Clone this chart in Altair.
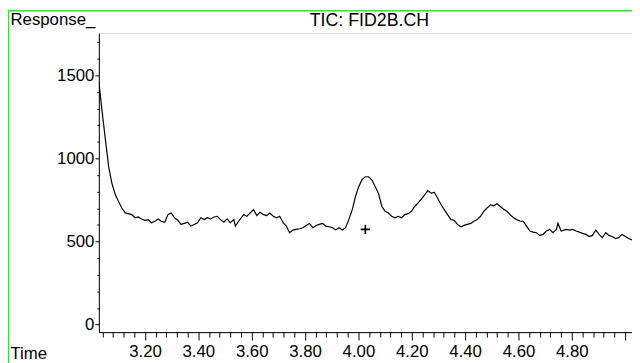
import altair as alt
import pandas as pd

# ---- data ----
time_min = [
    3.027, 3.039, 3.052, 3.064, 3.076, 3.089, 3.101, 3.113, 3.126, 3.138,
    3.150, 3.163, 3.175, 3.187, 3.200, 3.212, 3.224, 3.237, 3.249, 3.261,
    3.274, 3.286, 3.298, 3.311, 3.323, 3.335, 3.348, 3.360, 3.372, 3.385,
    3.397, 3.409, 3.422, 3.434, 3.446, 3.459, 3.471, 3.483, 3.496, 3.508,
    3.520, 3.533, 3.539, 3.551, 3.570, 3.582, 3.594, 3.607, 3.619, 3.631,
    3.644, 3.656, 3.668, 3.681, 3.693, 3.705, 3.718, 3.730, 3.742, 3.755,
    3.767, 3.779, 3.792, 3.804, 3.816, 3.829, 3.841, 3.853, 3.866, 3.878,
    3.890, 3.903, 3.915,
    3.927, 3.940, 3.952, 3.964, 3.977, 3.989, 4.001, 4.014, 4.026, 4.038,
    4.051, 4.063, 4.075, 4.088, 4.100, 4.112, 4.125, 4.137, 4.149, 4.162,
    4.174, 4.186, 4.199, 4.211, 4.223, 4.236, 4.248, 4.260, 4.273, 4.285,
    4.297, 4.310, 4.322, 4.334, 4.347, 4.359, 4.371, 4.384, 4.396, 4.408,
    4.421, 4.433, 4.445, 4.458, 4.470, 4.482, 4.495, 4.507, 4.519, 4.532,
    4.544, 4.556, 4.569, 4.581, 4.593, 4.606, 4.618, 4.630, 4.643, 4.655,
    4.667, 4.680, 4.692, 4.704, 4.717, 4.729, 4.742,
    4.748, 4.760,
    4.779, 4.791, 4.803, 4.816, 4.828, 4.840, 4.853, 4.865, 4.877, 4.890,
    4.902, 4.914, 4.927, 4.939, 4.951, 4.964, 4.976, 4.988, 5.001, 5.013,
    5.026,
]
response = [
    1464, 1286, 1107, 949, 850, 781, 741, 702, 672, 668,
    662, 643, 648, 636, 628, 632, 613, 622, 636, 622,
    616, 662, 672, 643, 628, 603, 609, 616, 593, 603,
    613, 643, 632, 643, 636, 648, 652, 632, 616, 636,
    613, 632, 593, 622, 662, 652, 672, 692, 656, 676,
    662, 656, 672, 652, 643, 652, 613, 593, 553, 569,
    573, 577, 583, 597, 609, 583, 597, 603, 609, 593,
    589, 583, 570,
    583, 569, 583, 632, 692, 771, 830, 874, 890, 890,
    870, 830, 791, 711, 682, 672, 652, 643, 652, 643,
    662, 668, 682, 711, 731, 755, 781, 805, 791, 795,
    761, 721, 692, 662, 632, 628, 603, 589, 597, 603,
    609, 622, 632, 652, 682, 702, 721, 715, 727, 711,
    696, 682, 662, 643, 632, 622, 622, 593, 563, 557,
    553, 537, 543, 563, 573, 553, 573,
    609, 563,
    573, 569, 573, 563, 557, 549, 543, 530, 537, 569,
    543, 524, 553, 537, 530, 518, 524, 543, 530, 518,
    510,
]
assert len(time_min) == len(response)

marker_time = [4.026]
marker_resp = [573]

x_major = [3.20, 3.40, 3.60, 3.80, 4.00, 4.20, 4.40, 4.60, 4.80, 5.00]
x_minor = [3.04, 3.08, 3.12, 3.16, 3.24, 3.28, 3.32, 3.36, 3.44, 3.48, 3.52, 3.56,
           3.64, 3.68, 3.72, 3.76, 3.84, 3.88, 3.92, 3.96, 4.04, 4.08, 4.12, 4.16,
           4.24, 4.28, 4.32, 4.36, 4.44, 4.48, 4.52, 4.56, 4.64, 4.68, 4.72, 4.76,
           4.84, 4.88, 4.92, 4.96]
y_major = [0, 500, 1000, 1500]
y_minor = [100, 200, 300, 400, 600, 700, 800, 900, 1100, 1200, 1300, 1400, 1600, 1700]

FONT = "Liberation Sans"
X_DOMAIN = [3.027, 5.0255]
Y_DOMAIN = [-45, 1755]

df = pd.DataFrame({"t": time_min, "r": response})
mk = pd.DataFrame({"t": marker_time, "r": marker_resp})
one = pd.DataFrame({"a": [0]})

xs = alt.Scale(domain=X_DOMAIN, nice=False, zero=False)
ys = alt.Scale(domain=Y_DOMAIN, nice=False, zero=False)

common_axis = dict(grid=False, labelFont=FONT, labelFontSize=17, labelColor="black",
                   tickColor="black", domainColor="black", titleFont=FONT,
                   titleFontSize=17, titleFontWeight="normal", titleColor="black",
                   labelOverlap=False, labelFlush=False)

line = alt.Chart(df).mark_line(color="black", strokeWidth=1.2, clip=True).encode(
    x=alt.X("t:Q", scale=xs, axis=alt.Axis(
        values=x_major, tickSize=8, labelPadding=4,
        labelExpr="datum.value > 4.9 ? '' : format(datum.value, '.2f')",
        title="Time", titleX=-90, titleY=27, titleAlign="left",
        titleBaseline="alphabetic", titleAngle=0, orient="bottom", **common_axis)),
    y=alt.Y("r:Q", scale=ys, axis=alt.Axis(
        values=y_major, tickSize=4, labelPadding=1, format="d",
        title="Response_", titleX=-90, titleY=-9, titleAlign="left",
        titleBaseline="alphabetic", titleAngle=0, orient="left", **common_axis)),
)

marker = alt.Chart(mk).mark_point(
    shape="M-1,0L1,0M0,-1L0,1", filled=False, color="black", strokeWidth=1.6,
    size=90, opacity=1,
).encode(
    x=alt.X("t:Q", scale=xs, axis=alt.Axis(
        values=x_minor, tickSize=5, labels=False, domain=False, title=None,
        orient="bottom", grid=False, tickColor="black")),
    y=alt.Y("r:Q", scale=ys, axis=alt.Axis(
        values=y_minor, tickSize=2, labels=False, domain=False, title=None,
        orient="left", grid=False, tickColor="black")),
)

green_left = alt.Chart(one).mark_rule(color="#22ee22", strokeWidth=1.5).encode(
    x=alt.value(-91.5), y=alt.value(-23), y2=alt.value(340))
green_top = alt.Chart(one).mark_rule(color="#22ee22", strokeWidth=1.5).encode(
    x=alt.value(-92), x2=alt.value(545), y=alt.value(-22.5))

chart = alt.layer(line, marker, green_left, green_top).resolve_axis(
    x="independent", y="independent"
).properties(
    width=540, height=303,
    autosize=alt.AutoSizeParams(type="none"),
    padding={"left": 92, "top": 23, "right": 0, "bottom": 29},
    title=alt.TitleParams("TIC: FID2B.CH", font=FONT, fontSize=18, fontWeight="normal",
                          color="black", anchor="middle", offset=4, dx=4, dy=25),
).configure_view(stroke=None).configure(background="white")

chart.save("out.html", embed_options={"renderer": "svg", "actions": False})
